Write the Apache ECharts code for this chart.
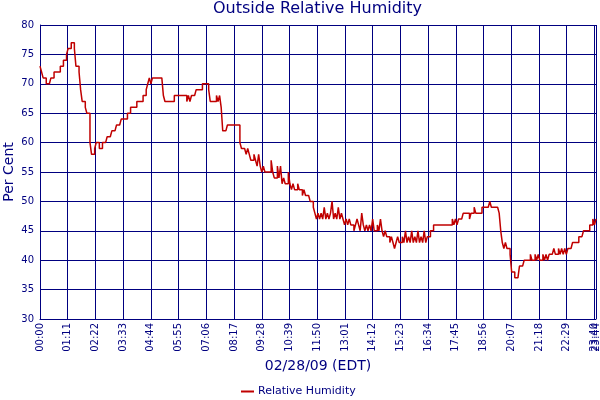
<!DOCTYPE html>
<html>
<head>
<meta charset="utf-8">
<title>Outside Relative Humidity</title>
<script src="https://cdn.jsdelivr.net/npm/echarts@6/dist/echarts.min.js"></script>
<style>
  html, body { margin: 0; padding: 0; background: #fff; }
  #chart { width: 600px; height: 400px; }
</style>
</head>
<body>
<div id="chart"></div>
<script>
// Utomhus-RH 02/28/09, ett värde var 4:e minut (00:00 .. 23:44).
const STEP_MIN = 4
const END_MIN = 1424          // 23:44, sista mätningen
const TICK_MIN = 71           // etikett var 71:a minut
const Y_MIN = 30, Y_MAX = 80, Y_STEP = 5

// en rad per timme (15 värden), sista raden 23:00..23:44
const HUMIDITY = [
  73, 72, 71, 71, 70, 70, 70, 71, 71, 72, 72, 72, 72, 73, 73,
  74, 74, 75, 76, 76, 77, 77, 76, 73, 73, 72, 69, 67, 67, 66,
  65, 65, 60, 58, 58, 59, 60, 60, 59, 59, 60, 60, 60, 61, 61,
  61, 62, 62, 62, 63, 63, 63, 64, 64, 64, 64, 65, 65, 66, 66,
  66, 66, 67, 67, 67, 67, 68, 68, 69, 70, 71, 70, 71, 71, 71,
  71, 71, 71, 71, 68, 67, 67, 67, 67, 67, 67, 68, 68, 68, 68,
  68, 68, 68, 68, 67, 68, 67, 68, 68, 68, 69, 69, 69, 69, 70,
  70, 70, 70, 69, 67, 67, 67, 67, 68, 67, 68, 66, 62, 62, 62,
  63, 63, 63, 63, 63, 63, 63, 63, 60, 59, 59, 59, 58, 59, 58,
  57, 57, 58, 57, 56, 58, 56, 55, 56, 55, 55, 55, 55, 57, 55,
  54, 54, 56, 54, 56, 53, 54, 53, 53, 55, 53, 52, 53, 52, 52,
  53, 52, 52, 51, 52, 51, 51, 51, 50, 50, 49, 48, 47, 48, 47,
  48, 47, 49, 47, 48, 47, 48, 50, 47, 48, 47, 49, 47, 48, 47,
  46, 47, 46, 47, 46, 46, 45, 46, 47, 46, 45, 48, 46, 45, 46,
  45, 46, 45, 47, 45, 45, 46, 45, 47, 45, 44, 45, 44, 44, 43,
  44, 43, 42, 43, 44, 43, 43, 44, 43, 45, 43, 44, 43, 45, 43,
  44, 43, 45, 43, 44, 43, 45, 43, 44, 44, 45, 45, 46, 46, 46,
  46, 46, 46, 46, 46, 46, 46, 46, 46, 47, 46, 47, 46, 47, 47,
  47, 48, 48, 48, 48, 47, 48, 48, 49, 48, 48, 48, 48, 49, 49,
  49, 49, 49, 50, 49, 49, 49, 49, 49, 48, 45, 43, 42, 43, 42,
  42, 41, 38, 38, 37, 37, 37, 39, 39, 39, 40, 40, 40, 40, 41,
  40, 40, 41, 40, 41, 40, 40, 41, 40, 41, 40, 41, 41, 41, 42,
  41, 41, 42, 41, 42, 41, 42, 41, 42, 42, 42, 43, 43, 43, 43,
  44, 44, 44, 45, 45, 45, 45, 46, 46, 47, 46, 47
]

const SERIES_NAME = 'Relative Humidity'
const TITLE = 'Outside Relative Humidity'
const X_NAME = '02/28/09 (EDT)'
const Y_NAME = 'Per Cent'

;(function () {
  'use strict'
  const NAVY = '#000080'
  const RED = '#c00000'
  const FONT = 'DejaVu Sans'
  const pad = n => String(n).padStart(2, '0')
  const hhmm = m => pad(Math.floor(m / 60)) + ':' + pad(Math.round(m % 60))
  const data = HUMIDITY.map((v, i) => [i * STEP_MIN, v])
  // etiketter var 71:a minut; sista mätningen (23:44) på en egen axel så att
  // den får krocka med 23:40 som i originalet (ECharts döljer annars en av dem)
  const xLabels = []
  for (let m = 0; m <= END_MIN; m += TICK_MIN) xLabels.push(m)
  const labelStyle = { rotate: 90, margin: 4, color: NAVY, fontSize: 10, fontFamily: FONT, formatter: v => hhmm(v) }

  const chart = echarts.init(document.getElementById('chart'), null, { renderer: 'canvas' })
  chart.setOption({
    animation: false,
    textStyle: { fontFamily: FONT },
    title: {
      text: TITLE, left: 213, top: 0, padding: [1, 0, 0, 0],
      textStyle: { color: NAVY, fontSize: 16, fontWeight: 'normal', fontFamily: FONT }
    },
    legend: {
      left: 241, top: 386, padding: 0, icon: 'rect', itemWidth: 13, itemHeight: 2, itemGap: 10,
      textStyle: { color: NAVY, fontSize: 11, fontFamily: FONT, padding: [0, 0, 0, -1] },
      data: [SERIES_NAME]
    },
    grid: { left: 40, right: 4, top: 25, bottom: 81, containLabel: false, outerBoundsMode: 'none' },
    xAxis: [{
      type: 'value', min: 0, max: END_MIN, interval: TICK_MIN,
      name: X_NAME, nameLocation: 'middle', nameGap: 40, nameMoveOverlap: false,
      nameTextStyle: { color: NAVY, fontSize: 14, fontFamily: FONT },
      axisLine: { lineStyle: { color: NAVY, width: 1 } },
      axisTick: { show: false },
      axisLabel: Object.assign({ customValues: xLabels, showMinLabel: true, showMaxLabel: true }, labelStyle),
      splitLine: { show: true, lineStyle: { color: NAVY, width: 1 } }
    }, {
      type: 'value', min: 0, max: END_MIN, position: 'bottom',
      axisLine: { show: false }, axisTick: { show: false }, splitLine: { show: false },
      axisLabel: Object.assign({ customValues: [END_MIN], showMinLabel: true, showMaxLabel: true }, labelStyle)
    }],
    yAxis: {
      type: 'value', min: Y_MIN, max: Y_MAX, interval: Y_STEP,
      name: Y_NAME, nameLocation: 'middle', nameGap: 24, nameMoveOverlap: false,
      nameTextStyle: { color: NAVY, fontSize: 14, fontFamily: FONT },
      axisLine: { show: true, lineStyle: { color: NAVY, width: 1 } },
      axisTick: { show: false },
      axisLabel: { margin: 6, color: NAVY, fontSize: 10, fontFamily: FONT },
      splitLine: { show: true, lineStyle: { color: NAVY, width: 1 } }
    },
    series: [{
      name: SERIES_NAME, type: 'line', step: 'end', showSymbol: false, symbol: 'none',
      xAxisIndex: 0, itemStyle: { color: RED }, lineStyle: { color: RED, width: 1.5 },
      data
    }]
  })
})()
</script>
</body>
</html>
